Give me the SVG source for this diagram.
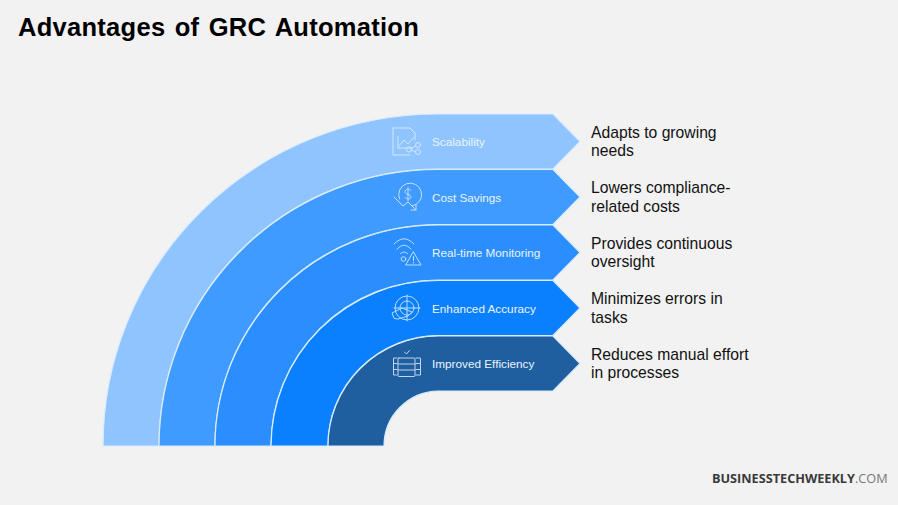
<svg xmlns="http://www.w3.org/2000/svg" width="898" height="505" viewBox="0 0 898 505">
<style>
.band{stroke:#d8ecff;stroke-width:1.2}
.lbl{font:11.75px "Liberation Sans",Arial,sans-serif;fill:#eaf4ff}
.desc{font:15.7px "Liberation Sans",Arial,sans-serif;fill:#111}
.ico{fill:none;stroke:#dcecff;stroke-width:1;stroke-linecap:round;stroke-linejoin:round;opacity:.85}
</style>
<rect width="898" height="505" fill="#f2f2f2"/>
<text x="18" y="36" font-family="'Liberation Sans',Arial,sans-serif" font-weight="700" font-size="25.500" letter-spacing=".28" fill="#000" word-spacing="2">Advantages of GRC Automation</text>
<g id="connectors"></g>
<g id="node-scalability">
<path class="band" fill="#90c4ff" d="M103 446A335 332 0 0 1 438 114H553L580 141.500L553 169H438A279 277 0 0 0 159 446Z"/>
<g class="ico"><path d="M393 128H410L415 133V140M393 128V155H410M398 148L398 136M398 148H412M399 146L404 140L408 144L414 137"/><circle cx="409" cy="149.500" r="2.500"/><circle cx="418" cy="145" r="2.500"/><circle cx="418" cy="152" r="2.500"/><path d="M411.300 148.500L415.800 146M411.300 150.500L415.800 151.500"/></g>
<text class="lbl" x="432" y="146">Scalability</text>
<text class="desc" x="591" y="137.500">Adapts to growing</text>
<text class="desc" x="591" y="156">needs</text>
</g>
<g id="node-cost-savings">
<path class="band" fill="#3f9bff" d="M159 446A279 277 0 0 1 438 169.500H553L580 197L553 224.500H438A223 221 0 0 0 215 446Z"/>
<g class="ico"><path d="M399.500 199A11.500 11.500 0 1 1 412 206M394 197L403 206L408 202L416 210M416 205V210H411"/><path d="M411 190.500C409 188.500 405 189 405 191.500C405 195 411 194 411 197C411 199.500 406.500 199.500 405 197.500M408 187.500V201"/></g>
<text class="lbl" x="432" y="201.500">Cost Savings</text>
<text class="desc" x="591" y="193">Lowers compliance-</text>
<text class="desc" x="591" y="211.500">related costs</text>
</g>
<g id="node-real-time-monitoring">
<path class="band" fill="#2b8eff" d="M215 446A223 221 0 0 1 438 225H553L580 252.500L553 280H438A167 166 0 0 0 271 446Z"/>
<g class="ico"><path d="M394 244C401 237 407 237 414 244M397 249C402 244 406 244 411 249M400.500 253.500C403 251.500 405 251.500 407.500 253.500"/><circle cx="403.500" cy="259" r="2.300"/><path d="M413.500 252L421 265H406Z M413.500 256.500V260.500M413.500 262.500V263"/></g>
<text class="lbl" x="432" y="257">Real-time Monitoring</text>
<text class="desc" x="591" y="248.500">Provides continuous</text>
<text class="desc" x="591" y="267">oversight</text>
</g>
<g id="node-enhanced-accuracy">
<path class="band" fill="#0a80ff" d="M271 446A167 166 0 0 1 438 280.500H553L580 308L553 335.500H438A111 110 0 0 0 328 446Z"/>
<g class="ico"><circle cx="407" cy="308" r="12"/><circle cx="407" cy="308" r="7"/><path d="M407 295V321M394 308H420"/><path d="M394 318L392 313L402 308L412 312L408 316L398 319Z"/></g>
<text class="lbl" x="432" y="312.500">Enhanced Accuracy</text>
<text class="desc" x="591" y="304">Minimizes errors in</text>
<text class="desc" x="591" y="322.500">tasks</text>
</g>
<g id="node-improved-efficiency">
<path class="band" fill="#1f5f9f" d="M328 446A111 110 0 0 1 438 336H553L580 363.500L553 391H438A55 55 0 0 0 384 446Z"/>
<g class="ico"><rect x="398" y="358" width="17" height="18.500" rx="1"/><path d="M398 364H415M398 370H415M404.500 352L406.500 354L409.500 350.500M397 358H393.500V375H397M393.500 363.500H397M393.500 369.500H397M416 358H420.500V375H416M420.500 363.500H416M420.500 369.500H416"/></g>
<text class="lbl" x="432" y="368">Improved Efficiency</text>
<text class="desc" x="591" y="359.500">Reduces manual effort</text>
<text class="desc" x="591" y="378">in processes</text>
</g>
<g id="watermark"><text x="712" y="483" font-family="'Open Sans','Noto Sans',sans-serif" font-size="12.700" fill="#3a3a3a"><tspan font-weight="700">BUSINESSTECHWEEKLY</tspan><tspan fill="#777">.COM</tspan></text></g>
</svg>
